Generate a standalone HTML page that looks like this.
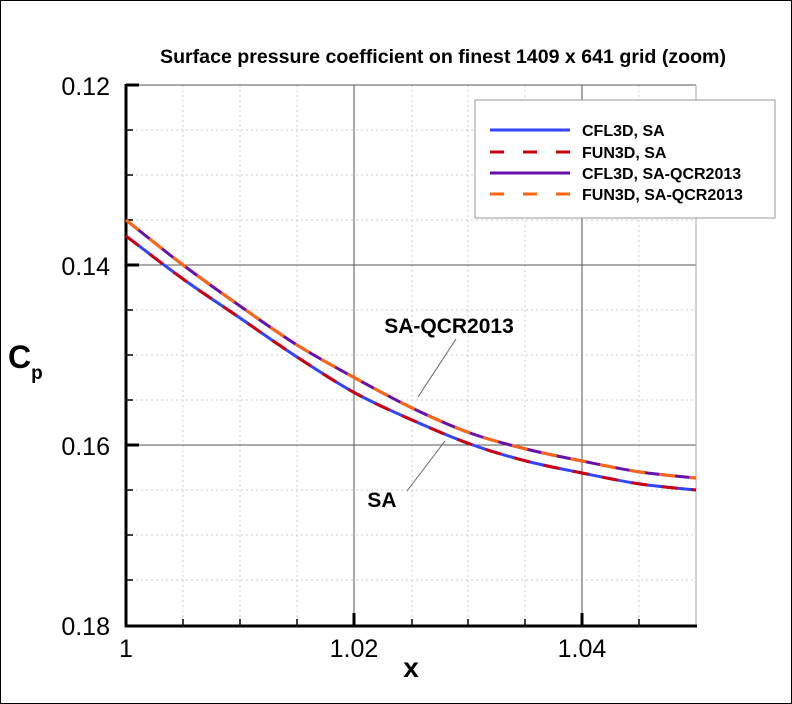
<!DOCTYPE html><html><head><style>body{margin:0;background:#fff}svg{display:block}</style></head><body>
<svg width="792" height="704" viewBox="0 0 792 704" xmlns="http://www.w3.org/2000/svg" font-family="Liberation Sans, sans-serif">
<rect x="0.5" y="0.5" width="791" height="703" fill="#fff" stroke="#000" stroke-width="1"/>
<text x="443" y="63" font-size="19" font-weight="bold" text-anchor="middle" textLength="566" lengthAdjust="spacingAndGlyphs">Surface pressure coefficient on finest 1409 x 641 grid (zoom)</text>
<g stroke="#ccc" stroke-width="1" stroke-dasharray="2,3">
<line x1="183" y1="85" x2="183" y2="626"/><line x1="240" y1="85" x2="240" y2="626"/><line x1="297" y1="85" x2="297" y2="626"/>
<line x1="412" y1="85" x2="412" y2="626"/><line x1="468" y1="85" x2="468" y2="626"/><line x1="525" y1="85" x2="525" y2="626"/>
<line x1="639" y1="85" x2="639" y2="626"/>
<line x1="126" y1="130" x2="696" y2="130"/><line x1="126" y1="175" x2="696" y2="175"/><line x1="126" y1="220" x2="696" y2="220"/>
<line x1="126" y1="310" x2="696" y2="310"/><line x1="126" y1="355" x2="696" y2="355"/><line x1="126" y1="400" x2="696" y2="400"/>
<line x1="126" y1="490" x2="696" y2="490"/><line x1="126" y1="535" x2="696" y2="535"/><line x1="126" y1="580" x2="696" y2="580"/>
</g>
<g stroke="#555" stroke-width="1">
<line x1="354" y1="85" x2="354" y2="626"/><line x1="582" y1="85" x2="582" y2="626"/>
<line x1="126" y1="85" x2="696" y2="85"/><line x1="126" y1="265" x2="696" y2="265"/><line x1="126" y1="445" x2="696" y2="445"/>
<line x1="696" y1="85" x2="696" y2="626" stroke="#aaa"/>
</g>
<g stroke="#000" stroke-width="3" fill="none">
<line x1="126" y1="84" x2="126" y2="627"/><line x1="125" y1="626" x2="697" y2="626"/>
<line x1="126" y1="85" x2="139" y2="85"/><line x1="126" y1="265" x2="139" y2="265"/><line x1="126" y1="445" x2="139" y2="445"/>
<line x1="354" y1="626" x2="354" y2="613"/><line x1="582" y1="626" x2="582" y2="613"/>
</g>
<g stroke="#000" stroke-width="1.5">
<line x1="126" y1="130" x2="133" y2="130"/><line x1="126" y1="175" x2="133" y2="175"/><line x1="126" y1="220" x2="133" y2="220"/>
<line x1="126" y1="310" x2="133" y2="310"/><line x1="126" y1="355" x2="133" y2="355"/><line x1="126" y1="400" x2="133" y2="400"/>
<line x1="126" y1="490" x2="133" y2="490"/><line x1="126" y1="535" x2="133" y2="535"/><line x1="126" y1="580" x2="133" y2="580"/>
<line x1="183" y1="626" x2="183" y2="619"/><line x1="240" y1="626" x2="240" y2="619"/><line x1="297" y1="626" x2="297" y2="619"/>
<line x1="412" y1="626" x2="412" y2="619"/><line x1="468" y1="626" x2="468" y2="619"/><line x1="525" y1="626" x2="525" y2="619"/><line x1="639" y1="626" x2="639" y2="619"/>
</g>
<g font-size="25" text-anchor="end">
<text x="110" y="95">0.12</text><text x="110" y="275">0.14</text><text x="110" y="455">0.16</text><text x="110" y="635">0.18</text>
</g>
<g font-size="25" text-anchor="middle">
<text x="126" y="657">1</text><text x="354" y="657">1.02</text><text x="582" y="657">1.04</text>
</g>
<text x="411" y="677" font-size="28" font-weight="bold" text-anchor="middle">x</text>
<text x="8" y="368" font-size="32" font-weight="bold">C<tspan font-size="19" dy="11">p</tspan></text>
<g fill="none" stroke-width="3" id="curves">
<path id="p1" stroke="#3344ff"/>
<path id="p2" stroke="#cc0011" stroke-dasharray="16,14"/>
<path id="p3" stroke="#6611aa"/>
<path id="p4" stroke="#ff6611" stroke-dasharray="16,14"/>
</g>
<line x1="418" y1="397" x2="456" y2="339" stroke="#666" stroke-width="1"/>
<line x1="407" y1="491" x2="445" y2="441" stroke="#666" stroke-width="1"/>
<text x="449" y="333" font-size="21" font-weight="bold" text-anchor="middle">SA-QCR2013</text>
<text x="382" y="507" font-size="21" font-weight="bold" text-anchor="middle">SA</text>
<rect x="475" y="100" width="300" height="118" fill="#fff" stroke="#999" stroke-width="1"/>
<g stroke-width="3">
<line x1="490" y1="130" x2="570" y2="130" stroke="#3344ff"/>
<line x1="490" y1="152" x2="570" y2="152" stroke="#cc0011" stroke-dasharray="14,19"/>
<line x1="490" y1="173" x2="570" y2="173" stroke="#6611aa"/>
<line x1="490" y1="194" x2="570" y2="194" stroke="#ff6611" stroke-dasharray="14,19"/>
</g>
<g font-size="16" font-weight="bold">
<text x="582" y="136">CFL3D, SA</text><text x="582" y="158">FUN3D, SA</text>
<text x="582" y="179">CFL3D, SA-QCR2013</text><text x="582" y="200">FUN3D, SA-QCR2013</text>
</g>
</svg>
<script>
function cr(p){var d="M"+p[0][0]+","+p[0][1];for(var i=0;i<p.length-1;i++){var a=p[i-1]||p[i],b=p[i],c=p[i+1],e=p[i+2]||c;d+=" C"+(b[0]+(c[0]-a[0])/6)+","+(b[1]+(c[1]-a[1])/6)+" "+(c[0]-(e[0]-b[0])/6)+","+(c[1]-(e[1]-b[1])/6)+" "+c[0]+","+c[1];}return d;}
var sa=[[126,236],[183,279],[240,318],[297,357],[355,393],[412,420],[470,444],[526,461],[582,473],[640,484],[696,490]];
var q=[[126,220],[183,265],[240,306],[297,345],[355,378],[412,408],[470,433],[526,449],[582,461],[640,472],[696,478]];
document.getElementById("p1").setAttribute("d",cr(sa));document.getElementById("p2").setAttribute("d",cr(sa));
document.getElementById("p3").setAttribute("d",cr(q));document.getElementById("p4").setAttribute("d",cr(q));
</script>
</body></html>
